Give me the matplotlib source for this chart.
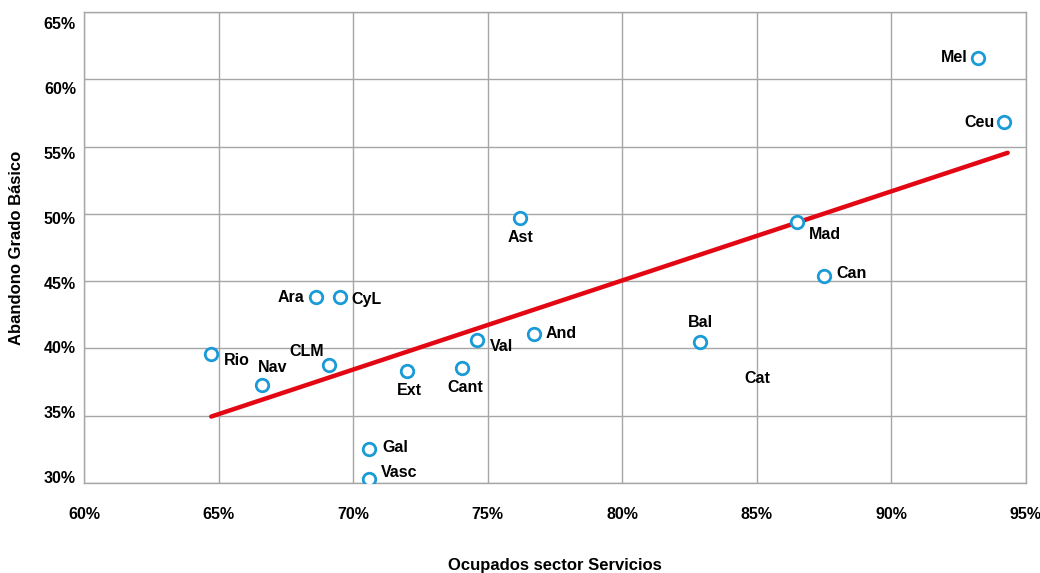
import matplotlib
matplotlib.use("Agg")
import matplotlib.pyplot as plt
from matplotlib.ticker import FuncFormatter
from matplotlib.transforms import ScaledTranslation

# Regions: % employed in services (x) vs dropout rate (y)
LABELS = ["Mel", "Ceu", "Mad", "Can", "Ast", "Bal", "Ara", "CyL", "Rio", "Nav",
          "CLM", "Ext", "Cant", "Val", "And", "Gal", "Vasc"]
SERVICIOS = [93.2, 94.2, 86.5, 87.5, 76.2, 82.9, 68.6, 69.5, 64.7, 66.6,
             69.1, 72.0, 74.05, 74.6, 76.7, 70.6, 70.6]
ABANDONO = [61.6, 56.8, 49.4, 45.4, 49.7, 40.5, 43.8, 43.85, 39.6, 37.3,
            38.8, 38.3, 38.55, 40.6, 41.1, 32.5, 30.3]
# label offsets in pixels (dx, dy, ha)
OFFSETS = {
    "Mel": (-10, 0, "right"), "Ceu": (-10, 0, "right"), "Mad": (12, -13, "left"),
    "Can": (12, 2, "left"), "Ast": (0, -20, "center"), "Bal": (0, 19, "center"),
    "Ara": (-11, 0, "right"), "CyL": (12, -3, "left"), "Rio": (13, -7, "left"),
    "Nav": (11, 17, "center"), "CLM": (-22, 13, "center"), "Ext": (2, -19, "center"),
    "Cant": (3, -20, "center"), "Val": (13, -6, "left"), "And": (12, 0, "left"),
    "Gal": (13, 2, "left"), "Vasc": (11, 7, "left"),
}
# Cat label appears without a visible marker
CAT_POS = (85.0, 37.75)

TREND_X = [64.72, 94.32]
TREND_Y = [34.94, 54.54]

YTICKS = [30, 35, 40, 45, 50, 55, 60, 65]
XTICKS = [60, 65, 70, 75, 80, 85, 90, 95]

BLUE = "#1a9ad6"
RED = "#e30613"
GRID = "#a6a6a6"

plt.rcParams["font.family"] = ["Liberation Sans", "DejaVu Sans"]
plt.rcParams["font.weight"] = "bold"

fig = plt.figure(figsize=(10.4, 5.73), dpi=100)
ax = fig.add_axes([0.081, 0.157, 0.9055, 0.822])

ax.plot(TREND_X, TREND_Y, color=RED, lw=3.2, solid_capstyle="round", zorder=3)
ax.plot(SERVICIOS, ABANDONO, ls="none", marker="o", ms=9, mfc="white",
        mec=BLUE, mew=2, zorder=4)

for name, x, y in zip(LABELS, SERVICIOS, ABANDONO):
    dx, dy, ha = OFFSETS[name]
    ax.annotate(name, (x, y), xytext=(dx, dy), textcoords="offset pixels",
                ha=ha, va="center", fontsize=11.5, fontweight="bold", zorder=5)
ax.text(CAT_POS[0], CAT_POS[1], "Cat", ha="center", va="center",
        fontsize=11.5, fontweight="bold", zorder=5)

ax.set_xticks(XTICKS)
ax.set_yticks(YTICKS)
ax.set_xlim(60, 95)
ax.set_ylim(30, 65)
pct = FuncFormatter(lambda v, _: f"{v:.0f}%")
ax.xaxis.set_major_formatter(pct)
ax.yaxis.set_major_formatter(pct)
ax.tick_params(length=0, labelsize=11.5)
ax.tick_params(axis="x", pad=17)
ax.tick_params(axis="y", pad=6)
ax.grid(True, color=GRID, lw=1)
ax.set_axisbelow(True)
for s in ax.spines.values():
    s.set_color(GRID)
    s.set_linewidth(1)

# the original's y labels are spaced a little tighter than its gridlines
for k, lab in enumerate(reversed(ax.get_yticklabels())):
    off = 11 - 2.4 * k
    lab.set_transform(lab.get_transform()
                      + ScaledTranslation(0, -off / 100, fig.dpi_scale_trans))

ax.set_xlabel("Ocupados sector Servicios", fontsize=12, fontweight="bold", labelpad=26)
ax.set_ylabel("Abandono Grado Básico", fontsize=12, fontweight="bold", labelpad=14)

fig.savefig("out.png", dpi=100, facecolor="white")
